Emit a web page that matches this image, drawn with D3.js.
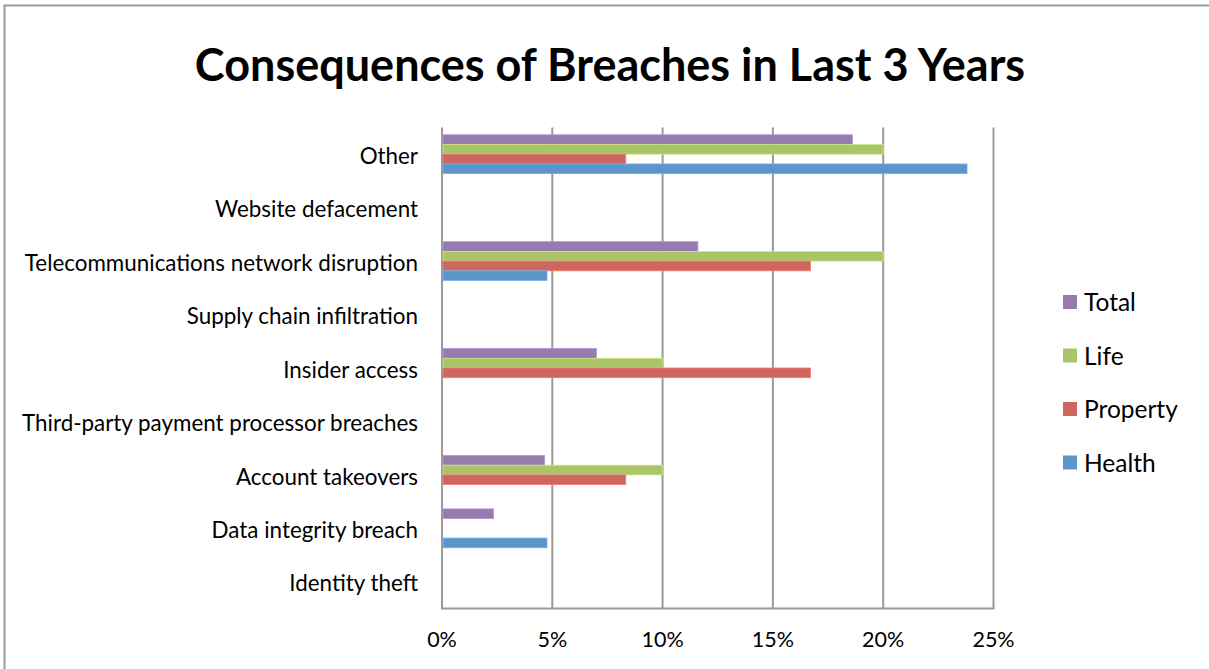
<!DOCTYPE html>
<html>
<head>
<meta charset="utf-8">
<script src="https://cdn.jsdelivr.net/npm/d3@7"></script>
<style>
  html, body { margin: 0; padding: 0; background: #fff; }
  svg { display: block; font-family: Lato, "Open Sans", sans-serif; }
</style>
</head>
<body>
<svg id="chart" width="1209" height="669"></svg>
<script>
// categories, top to bottom
const categories = [
  "Other",
  "Website defacement",
  "Telecommunications network disruption",
  "Supply chain infiltration",
  "Insider access",
  "Third-party payment processor breaches",
  "Account takeovers",
  "Data integrity breach",
  "Identity theft"
];

// series, in the order they stack inside a group (top to bottom)
const seriesNames = ["Total", "Life", "Property", "Health"];
const seriesColors = ["#957bb0", "#aac46a", "#cd665e", "#5e95c9"];

const totalValues    = [0.186, 0, 0.116, 0, 0.070, 0, 0.0465, 0.0233, 0];
const lifeValues     = [0.200, 0, 0.200, 0, 0.100, 0, 0.100, 0, 0];
const propertyValues = [0.0833, 0, 0.167, 0, 0.167, 0, 0.0833, 0, 0];
const healthValues   = [0.238, 0, 0.0476, 0, 0, 0, 0, 0.0476, 0];

const xTicks = [0, 0.05, 0.10, 0.15, 0.20, 0.25];

const seriesValues = [totalValues, lifeValues, propertyValues, healthValues];

const svg = d3.select("#chart");

// outer frame (right and bottom edges fall outside the picture)
svg.append("rect")
  .attr("x", 4.5).attr("y", 5.5)
  .attr("width", 1220).attr("height", 700)
  .attr("fill", "none")
  .attr("stroke", "#999")
  .attr("stroke-width", 2);

svg.append("text")
  .attr("x", 610)
  .attr("y", 81)
  .attr("text-anchor", "middle")
  .attr("font-size", 45)
  .attr("font-weight", "bold")
  .attr("fill", "#000")
  .text("Consequences of Breaches in Last 3 Years");

const plot = { left: 442, right: 993.5, top: 127.5, bottom: 608.5 };

const x = d3.scaleLinear()
  .domain([0, 0.25])
  .range([plot.left, plot.right]);

const y = d3.scaleBand()
  .domain(categories)
  .range([plot.top, plot.bottom])
  .paddingInner(0.2727)
  .paddingOuter(0.1364);

const ySeries = d3.scaleBand()
  .domain(seriesNames)
  .range([0, y.bandwidth()]);

// gridlines
svg.append("g")
  .selectAll("line")
  .data(xTicks)
  .join("line")
    .attr("x1", d => x(d)).attr("x2", d => x(d))
    .attr("y1", plot.top).attr("y2", plot.bottom)
    .attr("stroke", "#9a9a9a")
    .attr("stroke-width", 2);

// bottom axis line
svg.append("line")
  .attr("x1", plot.left - 1).attr("x2", plot.right + 1)
  .attr("y1", plot.bottom).attr("y2", plot.bottom)
  .attr("stroke", "#9a9a9a")
  .attr("stroke-width", 2);

// bars
const rows = [];
categories.forEach((c, i) => {
  seriesNames.forEach((s, j) => {
    rows.push({ category: c, series: s, value: seriesValues[j][i], color: seriesColors[j] });
  });
});

svg.append("g")
  .selectAll("rect")
  .data(rows.filter(d => d.value > 0))
  .join("rect")
    .attr("x", x(0) + 1)
    .attr("y", d => y(d.category) + ySeries(d.series))
    .attr("width", d => x(d.value) - x(0) - 1)
    .attr("height", ySeries.bandwidth())
    .attr("fill", d => d.color)
    .attr("stroke", d => d3.color(d.color).brighter(0.5))
    .attr("stroke-width", 0.8);

// category labels
svg.append("g")
  .selectAll("text")
  .data(categories)
  .join("text")
    .attr("x", 418)
    .attr("y", d => y(d) + y.bandwidth() / 2 + 4)
    .attr("text-anchor", "end")
    .attr("dominant-baseline", "middle")
    .attr("font-size", 22.4)
    .attr("fill", "#000")
    .text(d => d);

// x tick labels
svg.append("g")
  .selectAll("text")
  .data(xTicks)
  .join("text")
    .attr("x", d => x(d))
    .attr("y", 642)
    .attr("text-anchor", "middle")
    .attr("dominant-baseline", "middle")
    .attr("font-size", 21.5)
    .attr("fill", "#000")
    .text(d3.format(".0%"));

// legend
const legend = svg.append("g")
  .selectAll("g")
  .data(seriesNames)
  .join("g")
    .attr("transform", (d, i) => `translate(1063, ${302 + i * 53.5})`);

legend.append("rect")
  .attr("x", 0).attr("y", -7)
  .attr("width", 14).attr("height", 14)
  .attr("fill", (d, i) => seriesColors[i]);

legend.append("text")
  .attr("x", 21)
  .attr("y", 3)
  .attr("dominant-baseline", "middle")
  .attr("font-size", 24.5)
  .attr("fill", "#000")
  .text(d => d);
</script>
</body>
</html>
